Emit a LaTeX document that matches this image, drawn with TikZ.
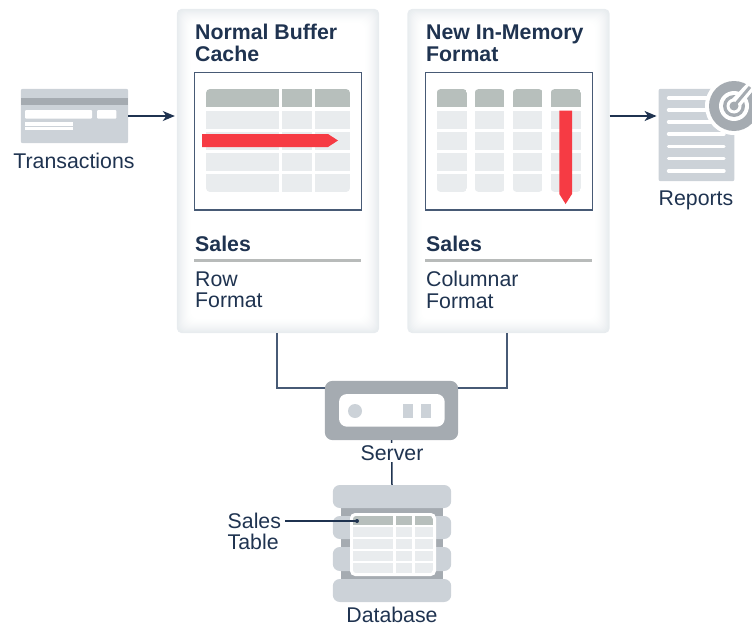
\documentclass[tikz,border=0pt]{standalone}
\usepackage{fontspec}
\setmainfont{Liberation Sans}
\usetikzlibrary{arrows.meta,positioning}
\definecolor{inkblue}{HTML}{1F3350}
\definecolor{framecol}{HTML}{475A75}
\definecolor{glowcol}{HTML}{E8ECEF}
\definecolor{iconlight}{HTML}{CCD2D8}
\definecolor{icondark}{HTML}{A5ABB1}
\definecolor{headcol}{HTML}{B7BFBC}
\definecolor{cellcol}{HTML}{E9ECEE}
\definecolor{rulecol}{HTML}{B8BBBA}
\definecolor{redcol}{HTML}{F63B44}
\tikzset{
  basic/.style   = {inner sep=0pt, text=inkblue, align=left,
                    font=\fontsize{21.3}{21.5}\selectfont},
  heading/.style = {basic, anchor=west, font=\fontsize{21.3}{21.5}\selectfont\bfseries},
  caption/.style = {basic, anchor=base, align=center},
  panel/.style   = {draw=none, inner sep=0pt, minimum width=202pt, minimum height=324pt},
  iconbox/.style = {draw=none, inner sep=0pt},
  frame/.style   = {draw=framecol, line width=1.2pt, fill=white},
  wire/.style    = {draw=framecol, line width=1.2pt},
  flow/.style    = {draw=inkblue, line width=1.5pt, shorten >=2pt,
                    -{Stealth[length=12pt,width=10pt,inset=3.5pt]}}
}
% soft glow along the inside of a panel
\newcommand{\glowpanel}[1]{
  \fill[glowcol, rounded corners=5pt] (#1.north west) rectangle (#1.south east);
  \foreach \g in {1,...,14}{
    \pgfmathsetmacro{\pct}{100*(1-\g/14)^1.4}
    \fill[glowcol!\pct!white, rounded corners=7pt]
      ([shift={(\g,\g)}]#1.north west) rectangle ([shift={(-\g,-\g)}]#1.south east);
  }
}
\begin{document}
\begin{tikzpicture}[x=1pt,y=-1pt]
\useasboundingbox (0,0) rectangle (752,626);

% the two panels
\node[panel] (rowpanel) at (278,171) {};
\node[panel] (colpanel) at (508.5,171) {};
\glowpanel{rowpanel}
\glowpanel{colpanel}

\node[heading] (rowtitle) at (195,43) {Normal Buffer\\Cache};
\node[heading] (coltitle) at (426,43.3) {New In-Memory\\Format};
\node[frame, minimum width=167.5pt, minimum height=137.5pt, inner sep=0pt] (rowframe) at (278,141.25) {};
\node[frame, minimum width=167.5pt, minimum height=137.5pt, inner sep=0pt] (colframe) at (509,141.25) {};

% row table
\begin{scope}
  \clip[rounded corners=4pt] (206,89) rectangle (350,192);
  \foreach \xa/\xb in {206/279,282/312,315/350}{
    \fill[headcol] (\xa,89) rectangle (\xb,107);
    \foreach \ya/\yb in {110.5/129,131.5/150,152.5/171,174/192}
      \fill[cellcol] (\xa,\ya) rectangle (\xb,\yb);
  }
\end{scope}
\fill[redcol] (202,134) -- (328,134) -- (338,140.5) -- (328,147) -- (202,147) -- cycle;

% columnar table
\foreach \xa/\xb in {436.7/467,474.7/504.7,512.7/542.7,550.7/581}{
  \begin{scope}
    \clip[rounded corners=4pt] (\xa,89) rectangle (\xb,192);
    \fill[headcol] (\xa,89) rectangle (\xb,107);
    \foreach \ya/\yb in {110.5/129,131.5/150,152.5/171,174/192}
      \fill[cellcol] (\xa,\ya) rectangle (\xb,\yb);
  \end{scope}
}
\fill[redcol] (559.3,110.7) -- (572,110.7) -- (572,194) -- (565.6,204) -- (559.3,194) -- cycle;

% panel footers
\node[heading] (rowsales) at (195,244) {Sales};
\node[heading] (colsales) at (426,244) {Sales};
\draw[rulecol, line width=3pt] (194,260.5) -- (361,260.5);
\draw[rulecol, line width=3pt] (425,260.5) -- (592,260.5);
\node[basic, anchor=west] (rowformat) at (195,289.7) {Row\\Format};
\node[basic, anchor=west] (colformat) at (426,289.7) {Columnar\\Format};

% card icon
\node[iconbox, minimum width=107pt, minimum height=54pt] (card) at (74.5,116) {};
\fill[iconlight, rounded corners=2pt] (card.north west) rectangle (card.south east);
\fill[icondark] (21,98) rectangle (128,105);
\fill[white, rounded corners=1pt] (25,110) rectangle (92,118.7);
\fill[white, rounded corners=1pt] (97,110) rectangle (116.3,118.7);
\fill[white] (25,122) rectangle (73,125.5);
\fill[white] (25,126.7) rectangle (73,129.5);
\node[caption] (cardlabel) at (74,168) {Transactions};

% report icon
\node[iconbox, minimum width=75.5pt, minimum height=92pt] (report) at (696.5,135) {};
\fill[iconlight, rounded corners=2pt] (report.north west) rectangle (report.south east);
\foreach \y in {98,110,122,134,146.7,158.7,171}
  \draw[white, line width=3.4pt, line cap=round] (668.5,\y) -- (724,\y);
\fill[white] (734,106) circle (29);
\fill[icondark] (734,106) circle (25);
\fill[white] (734,106) circle (15);
\fill[icondark] (734,106) circle (11);
\fill[white] (734,106) circle (7.5);
\fill[white] (731,100) -- (752,78) -- (752,92) -- (739,108) -- cycle;
\draw[icondark, line width=3pt] (734,106) -- (750,87);
\fill[icondark] (734,106) circle (4.5);
\node[caption] (reportlabel) at (696,205) {Reports};

% server icon
\node[iconbox, minimum width=133pt, minimum height=59pt] (server) at (391.5,410.5) {};
\fill[icondark, rounded corners=8pt] (server.north west) rectangle (server.south east);
\fill[white, rounded corners=8pt] (339,394) rectangle (444.7,426.7);
\fill[iconlight] (355,411) circle (7);
\fill[iconlight] (403,404) rectangle (413,418);
\fill[iconlight] (421,404) rectangle (431,418);

% database icon
\node[iconbox, minimum width=118pt, minimum height=117pt] (db) at (392,543.5) {};
\fill[icondark] (341,505) rectangle (443,582);
\foreach \ya/\yb in {485/508,516/539,547/571,579/602}
  \fill[iconlight, rounded corners=7pt] (db.west |- 0,\ya) rectangle (db.east |- 0,\yb);
\fill[white, rounded corners=5pt] (350,513) rectangle (436,576);
\begin{scope}
  \clip[rounded corners=3pt] (353,516) rectangle (433,573);
  \foreach \xa/\xb in {353/393,396/412,415/433}{
    \fill[headcol] (\xa,516) rectangle (\xb,525);
    \foreach \ya/\yb in {527/537,539/549,551/561,563/573}
      \fill[cellcol] (\xa,\ya) rectangle (\xb,\yb);
  }
\end{scope}
\node[caption] (dblabel) at (392,622.5) {Database};

% sales table callout
\coordinate (salesdot) at (357,521);
\node[basic, anchor=west] (saleslabel) at (227.5,531.5) {Sales\\Table};
\draw[draw=inkblue, line width=1.5pt] (285,521) -- (salesdot);
\fill[inkblue] (salesdot) circle (2);

% connectors
\draw[flow] (card.east) -- (card.east -| rowpanel.west);
\draw[flow] (colpanel.east |- card.east) -- (colpanel.east |- card.east -| report.west);
\draw[wire] ([xshift=-1pt]rowpanel.south) |- ([yshift=22.5pt]server.west);
\draw[wire] ([xshift=-1.5pt]colpanel.south) |- ([yshift=22.5pt]server.east);
\draw[draw=inkblue, line width=1.5pt] (server.south) -- (db.north);
\node[caption, fill=white, inner ysep=2pt] (serverlabel) at (392,460) {Server};

\end{tikzpicture}
\end{document}
